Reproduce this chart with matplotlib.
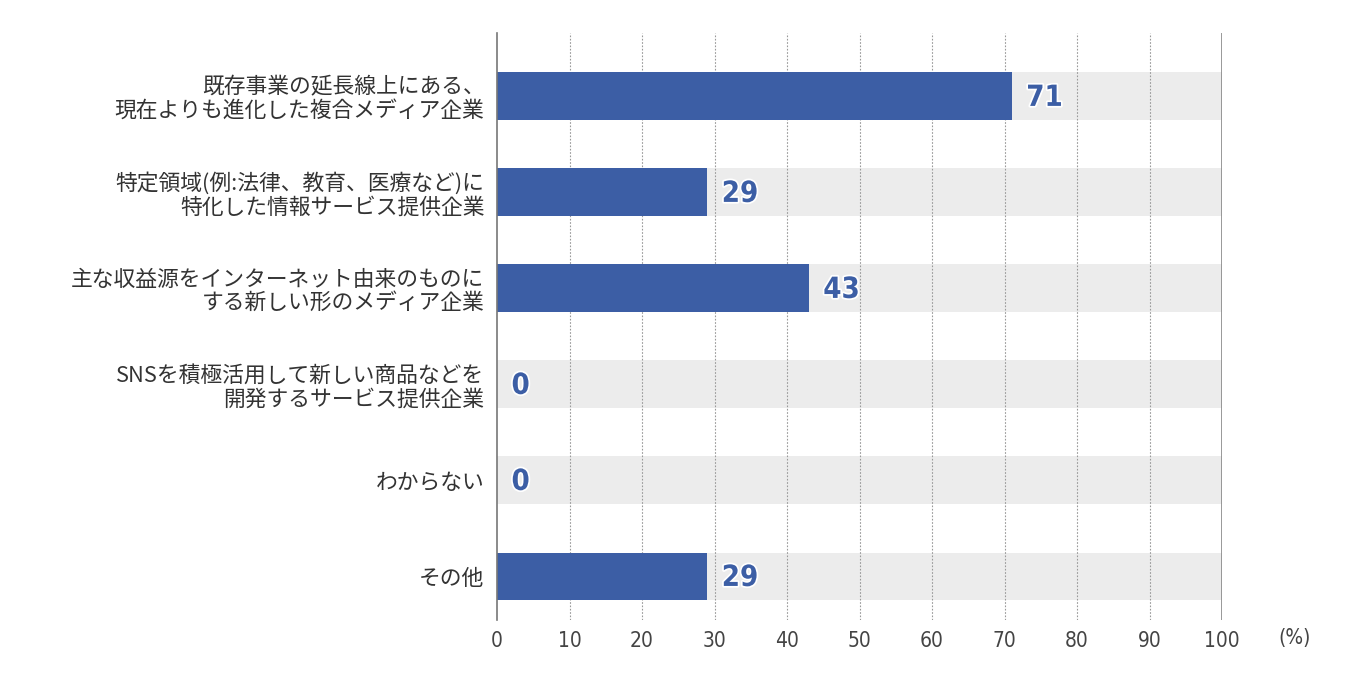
import matplotlib
matplotlib.use("Agg")
import matplotlib.pyplot as plt
import matplotlib.patheffects as pe

plt.rcParams['font.family'] = ['Noto Sans CJK JP', 'DejaVu Sans']

categories = [
    "既存事業の延長線上にある、\n現在よりも進化した複合メディア企業",
    "特定領域(例:法律、教育、医療など)に\n特化した情報サービス提供企業",
    "主な収益源をインターネット由来のものに\nする新しい形のメディア企業",
    "SNSを積極活用して新しい商品などを\n開発するサービス提供企業",
    "わからない",
    "その他",
]
values = [71, 29, 43, 0, 0, 29]
xticks = [0, 10, 20, 30, 40, 50, 60, 70, 80, 90, 100]

BAR_COLOR = '#3c5ea5'
BG_COLOR = '#ececec'

fig = plt.figure(figsize=(13.46, 6.85), dpi=100)
ax = fig.add_axes([497 / 1346, 1 - 620 / 685, (1222 - 497) / 1346, (620 - 33) / 685])

ypos = list(range(len(categories)))
ax.barh(ypos, [100] * len(values), height=0.49, color=BG_COLOR, zorder=1)
ax.barh(ypos, values, height=0.49, color=BAR_COLOR, zorder=3)

for y, v in zip(ypos, values):
    ax.text(v + 2.0, y + 0.02, str(v), va='center', ha='left', color=BAR_COLOR,
            fontsize=21, fontweight='bold', family='DejaVu Sans', fontstretch='condensed',
            zorder=5, path_effects=[pe.withStroke(linewidth=2.5, foreground='white')])

ax.set_xlim(0, 100)
ax.set_ylim(5 + 0.458, -0.656)
ax.set_yticks(ypos)
ax.set_yticklabels(categories, fontsize=15.7, color='#333333', linespacing=1.1)
ax.set_xticks(xticks)
ax.set_xticklabels([str(t) for t in xticks], fontsize=15, color='#444444',
                   family='DejaVu Sans', fontstretch='condensed')
ax.tick_params(axis='both', length=0)
ax.tick_params(axis='y', pad=9)
ax.tick_params(axis='x', pad=8)

for t in xticks[1:-1]:
    ax.axvline(t, color='#999999', linestyle=(0, (1.5, 1.5)), linewidth=0.8, zorder=2)
ax.axvline(100, color='#888888', linewidth=1.2, zorder=2)

for s in ['top', 'right', 'bottom']:
    ax.spines[s].set_visible(False)
ax.spines['left'].set_color('#777777')
ax.spines['left'].set_linewidth(1.2)
ax.spines['left'].set_zorder(4)

ax.text(1295 / 1346, 1 - 638 / 685, "(%)", transform=fig.transFigure, ha='center',
        va='center', fontsize=15, color='#444444', family='DejaVu Sans',
        fontstretch='condensed')

fig.savefig('out.png', dpi=100)
